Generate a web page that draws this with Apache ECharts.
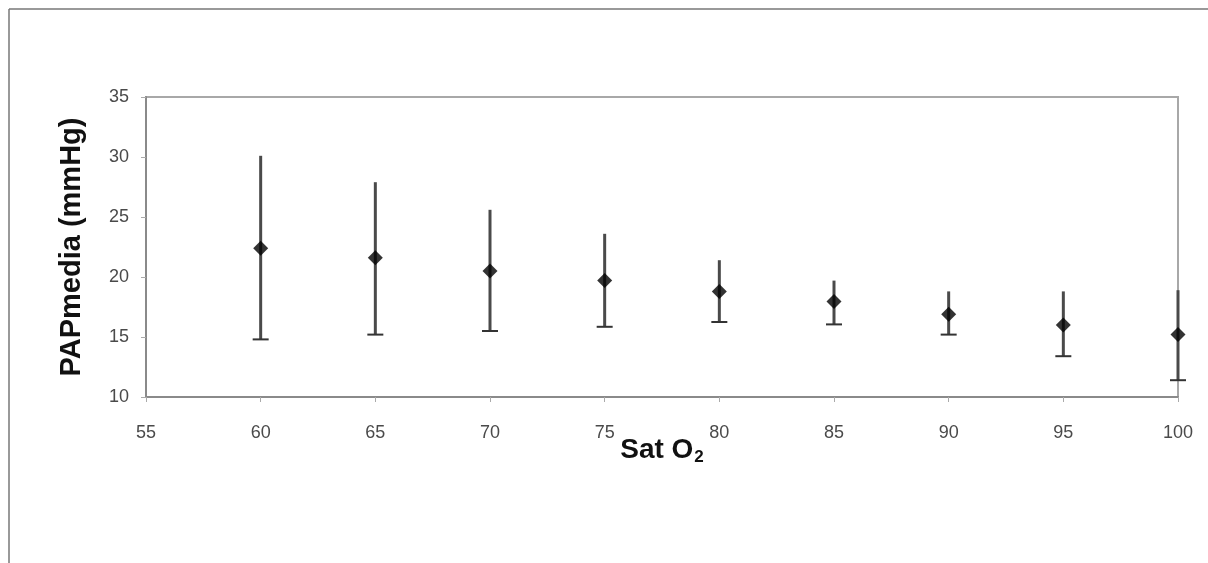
<!DOCTYPE html>
<html>
<head>
<meta charset="utf-8">
<script src="https://cdn.jsdelivr.net/npm/echarts@6/dist/echarts.min.js"></script>
<style>
html,body{margin:0;padding:0;background:#fff;}
#chart{width:1208px;height:563px;}
</style>
</head>
<body>
<div id="chart"></div>
<script>
var satO2 = [60, 65, 70, 75, 80, 85, 90, 95, 100];
var papMean = [22.4, 21.6, 20.5, 19.7, 18.8, 17.95, 16.9, 16.0, 15.2];
var papUpper = [30.1, 27.9, 25.6, 23.6, 21.4, 19.7, 18.8, 18.8, 18.9];
var papLower = [14.8, 15.2, 15.5, 15.85, 16.25, 16.05, 15.2, 13.4, 11.4];
var xTicks = [55, 60, 65, 70, 75, 80, 85, 90, 95, 100];
var yTicks = [10, 15, 20, 25, 30, 35];

var meanData = satO2.map(function (s, i) { return [s, papMean[i]]; });
var errData = satO2.map(function (s, i) { return [s, papLower[i], papUpper[i]]; });

var chart = echarts.init(document.getElementById('chart'));
var font = 'Liberation Sans, Arial, sans-serif';

chart.setOption({
  backgroundColor: '#fff',
  animation: false,
  graphic: [
    { type: 'line', shape: { x1: 9, y1: 9, x2: 1208, y2: 9 }, style: { stroke: '#777', lineWidth: 1.5 } },
    { type: 'line', shape: { x1: 9, y1: 9, x2: 9, y2: 563 }, style: { stroke: '#777', lineWidth: 1.5 } }
  ],
  grid: {
    left: 146, top: 97, right: 30, bottom: 166,
    show: true, borderColor: '#a8a8a8', borderWidth: 2, backgroundColor: '#fff'
  },
  xAxis: {
    type: 'value',
    min: xTicks[0], max: xTicks[xTicks.length - 1], interval: 5,
    name: 'Sat O{sub|2}',
    nameLocation: 'middle',
    nameGap: 38,
    nameMoveOverlap: false,
    nameTextStyle: {
      fontFamily: font, fontSize: 28, fontWeight: 'bold', color: '#111',
      rich: { sub: { fontFamily: font, fontSize: 17, fontWeight: 'bold', color: '#111', verticalAlign: 'bottom', padding: [14, 0, 0, 1] } }
    },
    axisLine: { show: true, onZero: false, lineStyle: { color: '#8a8a8a', width: 2 } },
    axisTick: { show: true, length: 5, lineStyle: { color: '#aaa', width: 1 } },
    axisLabel: { margin: 27, fontFamily: font, fontSize: 18, color: '#4a4a4a' },
    splitLine: { show: false }
  },
  yAxis: {
    type: 'value',
    min: yTicks[0], max: yTicks[yTicks.length - 1], interval: 5,
    name: 'PAPmedia (mmHg)',
    nameLocation: 'middle',
    nameGap: 60,
    nameMoveOverlap: false,
    nameTextStyle: { fontFamily: font, fontSize: 29, fontWeight: 'bold', color: '#111' },
    axisLine: { show: true, onZero: false, lineStyle: { color: '#8a8a8a', width: 2 } },
    axisTick: { show: true, length: 5, lineStyle: { color: '#aaa', width: 1 } },
    axisLabel: { margin: 17, fontFamily: font, fontSize: 18, color: '#4a4a4a' },
    splitLine: { show: false }
  },
  series: [
    {
      type: 'custom',
      clip: false,
      data: errData,
      encode: { x: 0, y: [1, 2] },
      renderItem: function (params, api) {
        var x = api.value(0);
        var lo = api.coord([x, api.value(1)]);
        var hi = api.coord([x, api.value(2)]);
        return {
          type: 'group',
          children: [
            { type: 'line', shape: { x1: lo[0], y1: lo[1], x2: hi[0], y2: hi[1] }, style: { stroke: '#4a4a4a', lineWidth: 3 } },
            { type: 'line', shape: { x1: lo[0] - 8, y1: lo[1], x2: lo[0] + 8, y2: lo[1] }, style: { stroke: '#333', lineWidth: 2 } }
          ]
        };
      },
      z: 3
    },
    {
      type: 'scatter',
      clip: false,
      data: meanData,
      symbol: 'diamond',
      symbolSize: [15, 15],
      itemStyle: { color: '#000' },
      z: 4
    }
  ]
});
</script>
</body>
</html>
